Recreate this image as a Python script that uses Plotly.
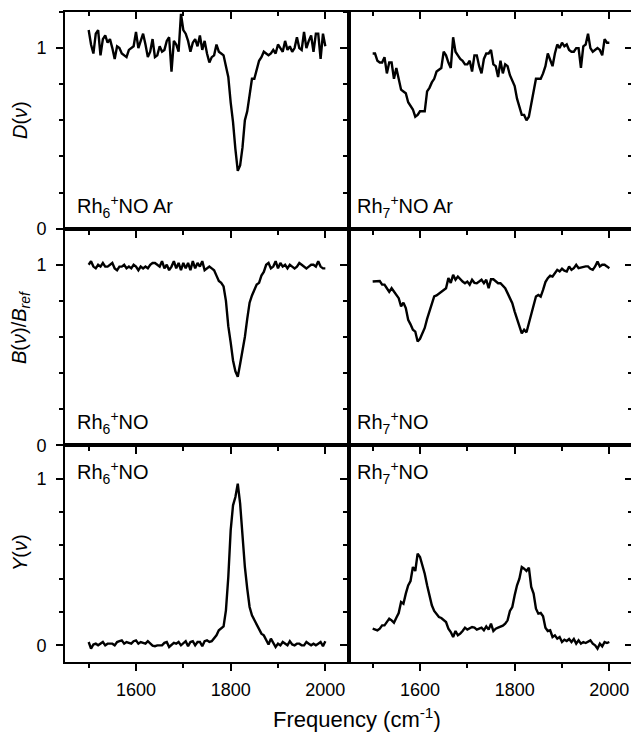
import plotly.graph_objects as go
from plotly.subplots import make_subplots

# ---------------- data ----------------
freq = list(range(1500, 2001, 5))

d_rh6_ar = [1.10, 1.02, 0.97, 1.08, 1.10, 0.96, 1.05, 1.07, 1.03, 1.05,
            1.00, 0.94, 1.01, 1.00, 0.97, 0.96, 0.95, 0.99, 1.00, 1.01,
            1.09, 1.00, 1.04, 1.08, 1.02, 0.95, 0.98, 1.05, 0.95, 0.96,
            1.01, 0.98, 0.99, 1.04, 1.06, 0.87, 1.04, 1.02, 0.98, 1.19,
            1.10, 1.08, 1.04, 0.98, 1.03, 1.05, 1.01, 1.07, 0.99, 1.04,
            0.97, 0.92, 0.95, 0.96, 1.02, 0.98, 0.97, 0.96, 0.90, 0.84,
            0.70, 0.59, 0.44, 0.32, 0.35, 0.45, 0.60, 0.65, 0.74, 0.83,
            0.83, 0.88, 0.93, 0.95, 0.98, 0.97, 0.96, 0.97, 0.99, 0.97,
            1.02, 1.00, 0.98, 1.04, 0.99, 1.01, 0.98, 1.00, 1.06, 1.00,
            0.99, 1.09, 1.00, 1.04, 1.07, 0.98, 1.08, 1.08, 0.94, 1.08,
            1.01]

d_rh7_ar = [0.97, 0.97, 0.93, 0.92, 0.92, 0.95, 0.86, 0.92, 0.92, 0.83,
            0.89, 0.82, 0.77, 0.76, 0.75, 0.70, 0.68, 0.66, 0.62, 0.63,
            0.65, 0.65, 0.65, 0.76, 0.78, 0.81, 0.83, 0.87, 0.88, 0.89,
            0.98, 0.96, 0.92, 0.89, 1.06, 0.98, 0.96, 0.94, 0.93, 0.91,
            0.91, 0.93, 0.87, 0.96, 0.96, 0.90, 0.86, 0.94, 0.97, 0.97,
            0.99, 0.91, 0.90, 0.84, 0.93, 0.86, 0.91, 0.90, 0.85, 0.82,
            0.79, 0.72, 0.68, 0.63, 0.63, 0.60, 0.62, 0.69, 0.76, 0.83,
            0.83, 0.83, 0.86, 0.90, 0.97, 0.94, 0.90, 0.97, 1.02, 1.00,
            1.03, 1.01, 1.02, 0.99, 0.98, 0.98, 1.00, 1.00, 0.89, 1.01,
            1.02, 1.08, 1.00, 0.98, 0.99, 1.00, 0.99, 0.96, 1.05, 1.03,
            1.03]

b_rh6 = [1.00, 1.02, 0.99, 0.98, 1.00, 0.99, 1.01, 0.99, 0.99, 1.00,
         1.01, 0.98, 0.97, 0.99, 0.99, 1.00, 0.98, 0.99, 0.98, 1.00,
         0.99, 0.97, 0.99, 0.98, 0.99, 0.98, 1.00, 1.01, 1.01, 1.00,
         0.99, 1.02, 0.98, 1.00, 0.97, 0.99, 1.02, 0.98, 1.01, 0.97,
         1.01, 0.98, 1.01, 0.97, 1.02, 0.98, 1.01, 0.99, 1.02, 0.97,
         0.98, 0.99, 0.98, 0.97, 0.94, 0.91, 0.90, 0.88, 0.80, 0.66,
         0.57, 0.47, 0.41, 0.38, 0.45, 0.52, 0.60, 0.70, 0.79, 0.83,
         0.86, 0.89, 0.90, 0.94, 0.96, 1.00, 1.01, 0.98, 0.99, 1.02,
         0.98, 1.01, 0.99, 1.00, 0.98, 1.00, 0.99, 0.98, 0.99, 1.01,
         1.00, 0.99, 0.98, 0.99, 1.00, 1.00, 0.99, 1.02, 0.99, 0.98,
         0.98]

b_rh7 = [0.907, 0.907, 0.91, 0.91, 0.89, 0.89, 0.87, 0.85, 0.87, 0.85,
         0.83, 0.815, 0.77, 0.79, 0.76, 0.695, 0.67, 0.64, 0.63, 0.575,
         0.59, 0.62, 0.65, 0.70, 0.74, 0.79, 0.825, 0.83, 0.84, 0.85,
         0.855, 0.87, 0.926, 0.90, 0.944, 0.917, 0.935, 0.92, 0.907, 0.898,
         0.907, 0.89, 0.917, 0.90, 0.898, 0.907, 0.917, 0.898, 0.917, 0.87,
         0.92, 0.92, 0.907, 0.898, 0.898, 0.885, 0.87, 0.843, 0.815, 0.787,
         0.741, 0.70, 0.657, 0.62, 0.64, 0.626, 0.676, 0.722, 0.77, 0.824,
         0.833, 0.824, 0.861, 0.904, 0.926, 0.94, 0.935, 0.954, 0.972, 0.963,
         0.978, 0.967, 0.963, 0.991, 0.972, 0.981, 1.00, 0.981, 0.985, 0.991,
         0.991, 0.991, 0.978, 0.972, 0.991, 1.018, 0.991, 1.00, 1.00, 0.991,
         0.981]

y_rh6 = [0.02, -0.02, 0.005, 0.01, 0.0, 0.01, 0.02, 0.0, 0.01, 0.01,
         0.01, 0.0, 0.02, 0.025, 0.03, 0.01, 0.02, 0.015, 0.01, 0.025,
         0.03, 0.01, 0.02, 0.015, 0.01, 0.025, 0.01, -0.002, -0.005, 0.0,
         0.0, 0.0, 0.015, 0.02, -0.01, 0.005, 0.015, 0.01, 0.02, 0.0,
         0.015, 0.025, -0.005, 0.02, 0.025, 0.0, 0.02, 0.02, -0.005, 0.025,
         0.03, 0.02, 0.025, 0.04, 0.06, 0.09, 0.10, 0.114, 0.21, 0.41,
         0.69, 0.84, 0.89, 0.97, 0.85, 0.65, 0.47, 0.34, 0.23, 0.18,
         0.15, 0.12, 0.09, 0.07, 0.06, 0.03, 0.005, 0.04, 0.01, -0.01,
         0.01, 0.0, 0.02, 0.01, 0.0, 0.025, 0.005, 0.0, 0.01, 0.01,
         0.0, 0.0, 0.02, 0.01, 0.0, 0.01, 0.0, 0.01, 0.02, -0.005,
         0.025]

y_rh7 = [0.10, 0.096, 0.09, 0.10, 0.12, 0.12, 0.14, 0.16, 0.15, 0.136,
         0.166, 0.194, 0.26, 0.25, 0.31, 0.36, 0.386, 0.47, 0.446, 0.55,
         0.53, 0.48, 0.43, 0.36, 0.30, 0.24, 0.206, 0.19, 0.17, 0.164,
         0.15, 0.14, 0.10, 0.08, 0.05, 0.086, 0.06, 0.07, 0.086, 0.106,
         0.094, 0.10, 0.11, 0.106, 0.094, 0.10, 0.106, 0.09, 0.114, 0.094,
         0.13, 0.086, 0.10, 0.106, 0.11, 0.118, 0.13, 0.15, 0.206, 0.23,
         0.30, 0.36, 0.40, 0.47, 0.46, 0.446, 0.466, 0.35, 0.31, 0.22,
         0.19, 0.194, 0.174, 0.106, 0.086, 0.09, 0.05, 0.06, 0.04, 0.05,
         0.02, 0.034, 0.026, 0.038, 0.02, 0.038, 0.01, 0.03, 0.01, 0.02,
         0.014, 0.02, 0.03, 0.01, 0.0, -0.02, 0.01, -0.006, 0.02, 0.014,
         0.02]

panel_labels = [
    "Rh<sub>6</sub><sup>+</sup>NO Ar", "Rh<sub>7</sub><sup>+</sup>NO Ar",
    "Rh<sub>6</sub><sup>+</sup>NO", "Rh<sub>7</sub><sup>+</sup>NO",
    "Rh<sub>6</sub><sup>+</sup>NO", "Rh<sub>7</sub><sup>+</sup>NO",
]
y_titles = ["<i>D</i>(<i>ν</i>)", "<i>B</i>(<i>ν</i>)/<i>B</i><sub><i>ref</i></sub>", "<i>Y</i>(<i>ν</i>)"]
x_title = "Frequency (cm<sup>-1</sup>)"

series = [d_rh6_ar, d_rh7_ar, b_rh6, b_rh7, y_rh6, y_rh7]
row_ranges = [[0, 1.2], [0, 1.2], [-0.1, 1.2]]
col_ranges = [[1450, 2050], [1450, 2050]]

FONT = "Liberation Sans, Arial, Helvetica, sans-serif"
W, H = 633, 732          # right border of the right column falls just outside the 631 px view
ML, MR, MT, MB = 65, 0, 12, 70
PW = W - ML - MR
PH = H - MT - MB

fig = make_subplots(rows=3, cols=2, horizontal_spacing=0, vertical_spacing=0,
                    column_widths=[284, 284])

for k, ys in enumerate(series):
    r, c = k // 2 + 1, k % 2 + 1
    fig.add_trace(go.Scatter(x=freq, y=ys, mode="lines",
                             line=dict(color="black", width=2.4),
                             showlegend=False, hoverinfo="skip"), row=r, col=c)

TF = dict(family=FONT, size=18, color="black")
for k in range(6):
    r, c = k // 2 + 1, k % 2 + 1
    fig.update_xaxes(row=r, col=c, range=col_ranges[c - 1], showline=True,
                     linecolor="black", linewidth=2, mirror=True,
                     ticks="outside", ticklen=7, tickwidth=2, tickcolor="black",
                     tick0=1600, dtick=200,
                     minor=dict(ticks="outside", ticklen=4, tickwidth=2,
                                tickcolor="black", tick0=1500, dtick=100),
                     showgrid=False, zeroline=False,
                     showticklabels=(r == 3), ticklabelstandoff=3, tickfont=TF)
    fig.update_yaxes(row=r, col=c, range=row_ranges[r - 1], showline=True,
                     linecolor="black", linewidth=2, mirror=(c == 1),
                     ticks="outside", ticklen=7, tickwidth=2, tickcolor="black",
                     tick0=0, dtick=1,
                     minor=dict(ticks="outside", ticklen=4, tickwidth=2,
                                tickcolor="black", tick0=0, dtick=0.2),
                     showgrid=False, zeroline=False,
                     showticklabels=(c == 1), ticklabelstandoff=6, tickfont=TF)

# inward ticks on top border of top row
for name, base, yref, rng in [("xaxis7", "x", "y", col_ranges[0]),
                              ("xaxis8", "x2", "y2", col_ranges[1])]:
    fig.update_layout({name: dict(overlaying=base, anchor=yref, side="top",
                                  range=rng, ticks="inside", ticklen=7, tickwidth=2,
                                  tickcolor="black", tick0=1600, dtick=200,
                                  minor=dict(ticks="inside", ticklen=4, tickwidth=2,
                                             tickcolor="black", tick0=1500, dtick=100),
                                  showticklabels=False, showline=False,
                                  showgrid=False, zeroline=False)})
    fig.add_trace(go.Scatter(x=[None], y=[None], xaxis=name.replace("axis", ""),
                             yaxis=yref, showlegend=False, hoverinfo="skip"))

# inward ticks on right border of right column
for name, base, xref, rng in [("yaxis7", "y2", "x2", row_ranges[0]),
                              ("yaxis8", "y4", "x4", row_ranges[1]),
                              ("yaxis9", "y6", "x6", row_ranges[2])]:
    fig.update_layout({name: dict(overlaying=base, anchor=xref, side="right",
                                  range=rng, ticks="inside", ticklen=8, tickwidth=2,
                                  tickcolor="black", tick0=0, dtick=1,
                                  minor=dict(ticks="inside", ticklen=5, tickwidth=2,
                                             tickcolor="black", tick0=0, dtick=0.2),
                                  showticklabels=False, showline=False,
                                  showgrid=False, zeroline=False)})
    fig.add_trace(go.Scatter(x=[None], y=[None], xaxis=xref,
                             yaxis=name.replace("axis", ""), showlegend=False,
                             hoverinfo="skip"))


def px_x(p):
    return (p - ML) / PW


def px_y(p):
    return (H - MB - p) / PH


annots = []
label_pos = [(75, 206), (355, 206), (75, 422.5), (355, 422.5), (75, 472.5), (355, 472.5)]
for txt, (lx, ly) in zip(panel_labels, label_pos):
    annots.append(dict(text=txt, xref="paper", yref="paper", x=px_x(lx), y=px_y(ly),
                       xanchor="left", yanchor="middle", showarrow=False,
                       font=dict(family=FONT, size=20, color="black")))

for txt, cy in zip(y_titles, [120, 327, 553]):
    annots.append(dict(text=txt, xref="paper", yref="paper", x=px_x(20), y=px_y(cy),
                       xanchor="center", yanchor="middle", textangle=-90,
                       showarrow=False, font=dict(family=FONT, size=20, color="black")))

annots.append(dict(text=x_title, xref="paper", yref="paper", x=px_x(357), y=px_y(718),
                   xanchor="center", yanchor="middle", showarrow=False,
                   font=dict(family=FONT, size=22, color="black")))

fig.update_layout(width=W, height=H, margin=dict(l=ML, r=MR, t=MT, b=MB),
                  plot_bgcolor="white", paper_bgcolor="white",
                  showlegend=False, annotations=annots,
                  font=dict(family=FONT, color="black"))

fig.write_html("out.html", config={"displayModeBar": False},
               post_script="document.body.style.margin='0';document.body.style.overflow='hidden';")
